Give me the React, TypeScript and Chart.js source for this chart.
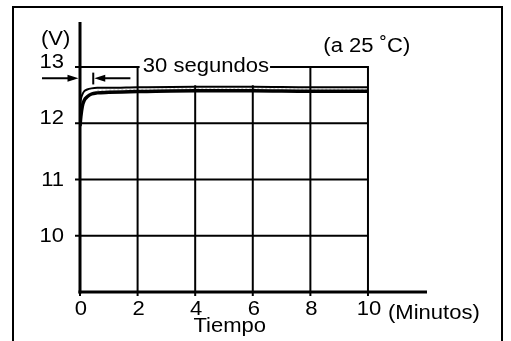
import React, { useEffect, useRef } from "react";
import { Chart, registerables } from "chart.js";

Chart.register(...registerables);

// ---- data ----
const timeMinutes = [0, 0.03, 0.08, 0.15, 0.25, 0.4, 0.6, 1, 2, 4, 6, 8, 10];
const upperVolts = [12.3, 12.43, 12.51, 12.57, 12.6, 12.62, 12.63, 12.63, 12.64, 12.65, 12.65, 12.64, 12.64];
const lowerVolts = [11.95, 12.12, 12.3, 12.41, 12.47, 12.52, 12.54, 12.55, 12.565, 12.58, 12.58, 12.57, 12.57];
const xTickValues = [0, 2, 4, 6, 8, 10];
const yTickValues = [10, 11, 12, 13];
const xRange = [0, 12.05];
const yRange = [9, 13.8];
const yUnitLabel = "(V)";
const xUnitLabel = "(Minutos)";
const xTitle = "Tiempo";
const conditionLabel = "(a 25 ˚C)";
const intervalLabel = "30 segundos";
const intervalEndMinutes = 0.46;
const arrowLevelVolts = 12.8;

const FONT = "19.5px 'Liberation Sans', Arial, Helvetica, sans-serif";
const HSCALE = 1.13;

function drawText(ctx: CanvasRenderingContext2D, text: string, x: number, y: number, align: CanvasTextAlign = "left", baseline: CanvasTextBaseline = "alphabetic") {
  ctx.save();
  ctx.translate(x, y);
  ctx.scale(HSCALE, 1);
  ctx.font = FONT;
  ctx.fillStyle = "#000";
  ctx.textAlign = align;
  ctx.textBaseline = baseline;
  ctx.fillText(text, 0, 0);
  ctx.restore();
}

function line(ctx: CanvasRenderingContext2D, x1: number, y1: number, x2: number, y2: number, w: number) {
  ctx.beginPath();
  ctx.lineWidth = w;
  ctx.strokeStyle = "#000";
  ctx.moveTo(x1, y1);
  ctx.lineTo(x2, y2);
  ctx.stroke();
}

function head(ctx: CanvasRenderingContext2D, tipX: number, y: number, dir: number) {
  const len = 11;
  const hw = 3.5;
  ctx.beginPath();
  ctx.fillStyle = "#000";
  ctx.moveTo(tipX, y);
  ctx.lineTo(tipX - dir * len, y - hw);
  ctx.lineTo(tipX - dir * len, y + hw);
  ctx.closePath();
  ctx.fill();
}

const decorPlugin = {
  id: "decor",
  beforeDatasetsDraw(chart: any) {
    const ctx = chart.ctx as CanvasRenderingContext2D;
    const xs = chart.scales.x;
    const ys = chart.scales.y;
    const X = (v: number) => xs.getPixelForValue(v);
    const Y = (v: number) => ys.getPixelForValue(v);
    const xLast = xTickValues[xTickValues.length - 1];
    const yTop = yTickValues[yTickValues.length - 1];
    ctx.save();
    for (const v of yTickValues) line(ctx, X(0), Y(v), X(xLast), Y(v), 2);
    for (const v of xTickValues) if (v !== 0) line(ctx, X(v), Y(yRange[0]), X(v), Y(yTop) - 1, 2);
    // white mask behind interval label
    ctx.fillStyle = "#fff";
    ctx.fillRect(X(2.07), Y(13.25), X(6.6) - X(2.07), Y(12.675) - Y(13.25));
    ctx.restore();
  },
  afterDatasetsDraw(chart: any) {
    const ctx = chart.ctx as CanvasRenderingContext2D;
    const xs = chart.scales.x;
    const ys = chart.scales.y;
    const X = (v: number) => xs.getPixelForValue(v);
    const Y = (v: number) => ys.getPixelForValue(v);
    const x0 = X(0);
    const yB = Y(yRange[0]);
    ctx.save();
    // dotted light line inside the band
    ctx.save();
    ctx.setLineDash([2, 2]);
    ctx.beginPath();
    ctx.lineWidth = 0.6;
    ctx.strokeStyle = "rgba(0,0,0,0.45)";
    for (let i = 6; i < timeMinutes.length; i++) {
      const px = X(timeMinutes[i]);
      const py = Y((upperVolts[i] + lowerVolts[i]) / 2);
      if (i === 6) ctx.moveTo(px, py);
      else ctx.lineTo(px, py);
    }
    ctx.stroke();
    ctx.restore();
    // axes
    line(ctx, x0, yB + 1.5, x0, Y(yRange[1]), 3);
    line(ctx, x0 - 1.5, yB, X(xRange[1]), yB, 3);
    // ticks
    for (const v of yTickValues) line(ctx, x0 - 5, Y(v), x0, Y(v), 2);
    for (const v of xTickValues) line(ctx, X(v), yB, X(v), yB + 4, 2);
    // tick labels
    for (const v of yTickValues) {
      if (v >= 12) drawText(ctx, String(v), x0 - 16, Y(v) + 1, "right", "alphabetic");
      else drawText(ctx, String(v), x0 - 16, Y(v) + 6.5, "right", "alphabetic");
    }
    for (const v of xTickValues) drawText(ctx, String(v), X(v) + 1, yB + 23, "center", "alphabetic");
    // titles
    drawText(ctx, yUnitLabel, x0 - 39, Y(yRange[1]) + 23);
    drawText(ctx, xUnitLabel, X(xRange[1]) - 39, yB + 27);
    drawText(ctx, xTitle, X(5.2), yB + 40, "center");
    drawText(ctx, conditionLabel, X(8.45), Y(13) - 15);
    drawText(ctx, intervalLabel, X(2.18), Y(13) + 5);
    // 30 s arrows
    const ay = Y(arrowLevelVolts);
    line(ctx, X(-1.32), ay, x0 - 6, ay, 2);
    head(ctx, x0 - 1.5, ay, 1);
    const xe = X(intervalEndMinutes);
    line(ctx, xe, Y(12.9), xe, Y(12.69), 2);
    line(ctx, xe + 6, ay, X(1.75), ay, 2);
    head(ctx, xe + 1, ay, -1);
    ctx.restore();
  },
};

export default function App() {
  const ref = useRef<HTMLCanvasElement | null>(null);
  useEffect(() => {
    if (!ref.current) return;
    const toPts = (ys: number[]) => timeMinutes.map((t, i) => ({ x: t, y: ys[i] }));
    const chart = new Chart(ref.current, {
      type: "line",
      data: {
        datasets: [
          { data: toPts(lowerVolts), borderColor: "#000", borderWidth: 3.5, pointRadius: 0, cubicInterpolationMode: "monotone", fill: false },
          { data: toPts(upperVolts), borderColor: "#000", borderWidth: 2, pointRadius: 0, cubicInterpolationMode: "monotone", fill: false },
        ],
      },
      options: {
        animation: false,
        responsive: false,
        maintainAspectRatio: false,
        devicePixelRatio: 1,
        layout: { padding: { left: 80, right: 84, top: 22, bottom: 49 } },
        plugins: { legend: { display: false }, tooltip: { enabled: false } },
        scales: {
          x: { type: "linear", min: xRange[0], max: xRange[1], display: false },
          y: { type: "linear", min: yRange[0], max: yRange[1], display: false },
        },
      },
      plugins: [decorPlugin],
    } as any);
    return () => chart.destroy();
  }, []);
  return (
    <div style={{ position: "fixed", left: 0, top: 0, width: 511, height: 341, background: "#fff", overflow: "hidden" }}>
      <canvas ref={ref} width={511} height={341} style={{ display: "block", position: "absolute", left: 0, top: 0 }} />
      <div style={{ position: "absolute", left: 12, top: 6, width: 487, height: 400, border: "2px solid #000", borderBottom: "none", pointerEvents: "none" }} />
    </div>
  );
}
